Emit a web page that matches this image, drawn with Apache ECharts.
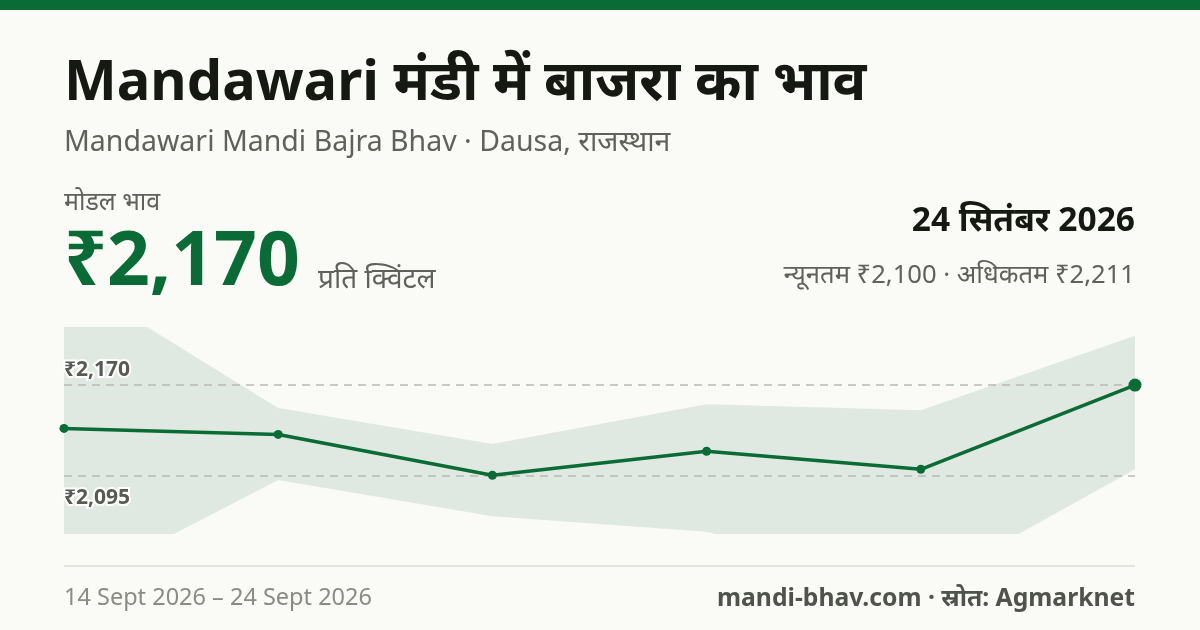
<!DOCTYPE html>
<html><head><meta charset="utf-8">
<script src="https://cdn.jsdelivr.net/npm/echarts@6/dist/echarts.min.js"></script>
<style>html,body{margin:0;padding:0;background:#fafaf6;}#c{width:1200px;height:630px;}</style>
</head><body><div id="c"></div>
<script>
const dates = ['14 Sept', '16 Sept', '18 Sept', '20 Sept', '22 Sept', '24 Sept'];
const modalPrice = [2134, 2129, 2095, 2115, 2100, 2170];
const minPrice = [1999, 2091, 2061, 2048, 2001, 2100];
const maxPrice = [2261, 2151, 2121, 2154, 2149, 2211];
const refLines = [2170, 2095];
const refLabels = ['₹2,170', '₹2,095'];

const FONT = '"Noto Sans", "Noto Sans Devanagari", sans-serif';
const bandDiff = maxPrice.map((v, i) => v - minPrice[i]);
const chart = echarts.init(document.getElementById('c'), null, {renderer: 'canvas'});
const green = '#0b6b36';
chart.setOption({
  backgroundColor: '#fafaf6',
  animation: false,
  grid: {left: 64, right: 65, top: 328, bottom: 97},
  xAxis: {type: 'category', data: dates, boundaryGap: false, show: false},
  yAxis: {type: 'value', min: 2047, max: 2217.5, show: false},
  graphic: [
    {type: 'rect', left: 0, top: 0, shape: {width: 1200, height: 10}, style: {fill: green}},
    {type: 'text', left: 64, top: 56, style: {text: 'Mandawari मंडी में बाजरा का भाव', font: 'bold 56px ' + FONT, fill: '#161912'}},
    {type: 'text', left: 64, top: 128, style: {text: 'Mandawari Mandi Bajra Bhav · Dausa, राजस्थान', font: '28.5px ' + FONT, fill: '#5f625a'}},
    {type: 'text', left: 64, top: 190, style: {text: 'मोडल भाव', font: '25px ' + FONT, fill: '#5f625a'}},
    {type: 'text', left: 64, top: 226, style: {text: '₹2,170', font: 'bold 75px ' + FONT, fill: green}},
    {type: 'text', left: 318, top: 266, style: {text: 'प्रति क्विंटल', font: '28px ' + FONT, fill: '#5f625a'}},
    {type: 'text', right: 65, top: 204, style: {text: '24 सितंबर 2026', font: 'bold 33.5px ' + FONT, fill: '#161912', align: 'right'}},
    {type: 'text', right: 65, top: 263, style: {text: 'न्यूनतम ₹2,100 · अधिकतम ₹2,211', font: '25.6px ' + FONT, fill: '#5f625a', align: 'right'}},
    {type: 'rect', left: 64, top: 565, shape: {width: 1071, height: 2}, style: {fill: '#e4e4dd'}},
    {type: 'text', left: 64, top: 586, style: {text: '14 Sept 2026 – 24 Sept 2026', font: '23.5px ' + FONT, fill: '#8a8c84'}},
    {type: 'text', right: 65, top: 586, style: {text: 'mandi-bhav.com · स्रोत: Agmarknet', font: 'bold 24.7px ' + FONT, fill: '#50534b', align: 'right'}}
  ],
  series: [
    {type: 'line', data: minPrice, stack: 'band', symbol: 'none', lineStyle: {opacity: 0}, silent: true},
    {type: 'line', data: bandDiff, stack: 'band', symbol: 'none', lineStyle: {opacity: 0}, areaStyle: {color: '#dfe9e1', opacity: 1}, silent: true},
    {
      type: 'line', data: modalPrice.map((v, i) => i === modalPrice.length - 1 ? {value: v, symbolSize: 13} : v),
      symbol: 'circle', symbolSize: 9, itemStyle: {color: green},
      lineStyle: {color: green, width: 3.5}, z: 5,
      markLine: {
        silent: true, symbol: 'none', animation: false,
        lineStyle: {color: '#b9bab3', type: [8, 6], width: 1.5},
        data: refLines.map((v, i) => ({
          yAxis: v,
          label: {
            show: true, position: i === 0 ? 'insideStartTop' : 'insideStartBottom',
            formatter: refLabels[i], distance: i === 0 ? [0, 5] : [0, 12],
            fontSize: 21, fontWeight: 'bold', fontFamily: FONT, color: '#585b53',
            textBorderColor: '#ffffff', textBorderWidth: 4
          }
        }))
      }
    }
  ]
});
</script></body></html>
